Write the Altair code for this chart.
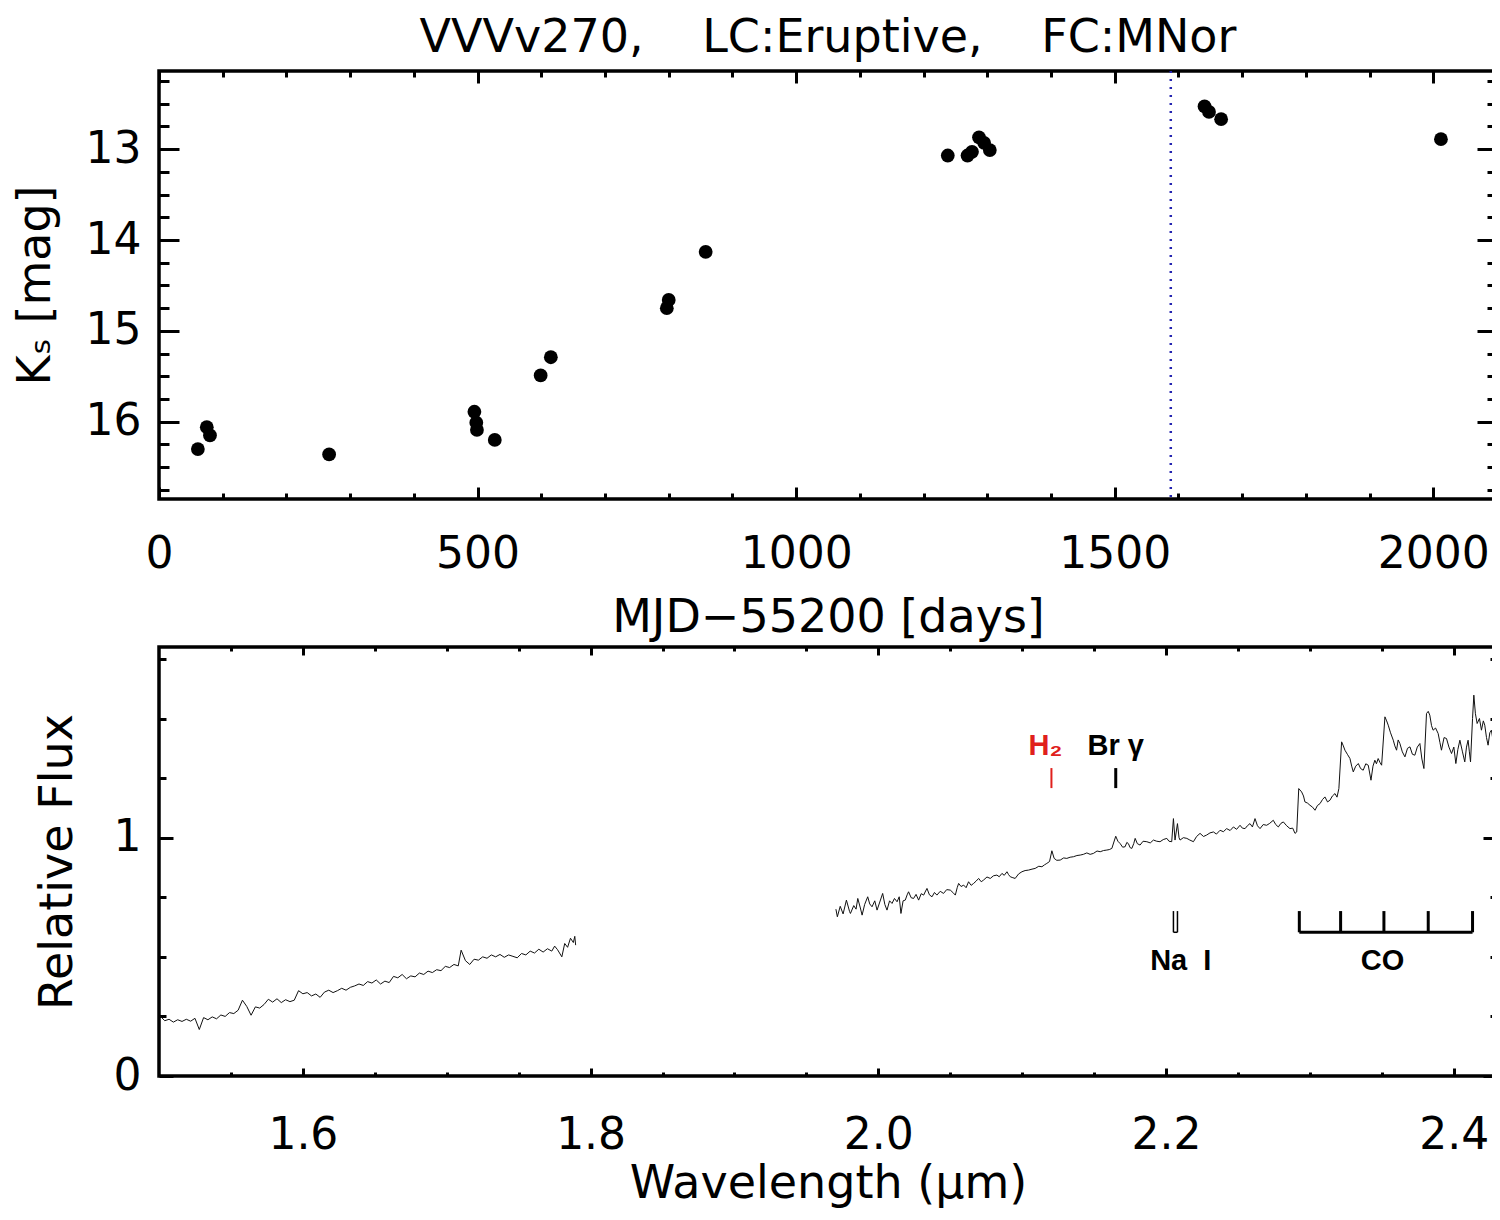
import altair as alt
import pandas as pd

FONT = "DejaVu Sans"
NARROW = "Liberation Sans Narrow, Liberation Sans, Arial, sans-serif"

# ---------------- light curve (top panel) ----------------
lc_days = [61, 75, 80, 267, 495, 498, 499, 527, 599, 615, 797, 800, 858,
           1238, 1269, 1276, 1287, 1295, 1304, 1641, 1648, 1667, 2012]
lc_ks = [16.30, 16.06, 16.15, 16.36, 15.89, 16.01, 16.09, 16.20, 15.49, 15.29,
         14.75, 14.66, 14.13, 13.07, 13.07, 13.03, 12.87, 12.93, 13.01,
         12.53, 12.59, 12.67, 12.89]
spec_epoch = [1588]

top_x_domain = [0, 2100]
top_y_domain = [12.14, 16.85]
top_x_major = [0, 500, 1000, 1500, 2000]
top_x_minor = [0, 100, 200, 300, 400, 500, 600, 700, 800, 900, 1000, 1100,
               1200, 1300, 1400, 1500, 1600, 1700, 1800, 1900, 2000, 2100]
top_y_major = [13, 14, 15, 16]
top_y_minor = [12.25, 12.5, 12.75, 13, 13.25, 13.5, 13.75, 14, 14.25, 14.5,
               14.75, 15, 15.25, 15.5, 15.75, 16, 16.25, 16.5, 16.75]

# ---------------- spectrum (bottom panel) ----------------
h_wl = [1.501, 1.504, 1.507, 1.510, 1.513, 1.516, 1.519, 1.522, 1.525, 1.528,
        1.531, 1.534, 1.537, 1.540, 1.543, 1.546, 1.549, 1.552, 1.555, 1.558,
        1.561, 1.564, 1.567, 1.570, 1.573, 1.576, 1.579, 1.582, 1.585, 1.588,
        1.591, 1.594, 1.597, 1.600, 1.603, 1.606, 1.609, 1.612, 1.615, 1.618,
        1.621, 1.624, 1.627, 1.630, 1.633, 1.636, 1.639, 1.642, 1.645, 1.648,
        1.651, 1.654, 1.657, 1.660, 1.663, 1.666, 1.669, 1.672, 1.675, 1.678,
        1.681, 1.684, 1.687, 1.690, 1.693, 1.696, 1.699, 1.702, 1.705, 1.708,
        1.710, 1.713, 1.716, 1.719, 1.722, 1.725, 1.728, 1.731, 1.734, 1.737,
        1.740, 1.743, 1.746, 1.749, 1.752, 1.755, 1.758, 1.761, 1.764, 1.767,
        1.770, 1.773, 1.775, 1.777, 1.780, 1.782, 1.784, 1.786, 1.788, 1.789,
        1.7896]
h_flux = [0.250, 0.232, 0.238, 0.226, 0.236, 0.229, 0.238, 0.230, 0.242, 0.195,
          0.245, 0.236, 0.248, 0.240, 0.256, 0.250, 0.266, 0.262, 0.276, 0.318,
          0.292, 0.255, 0.290, 0.285, 0.300, 0.322, 0.310, 0.324, 0.308, 0.320,
          0.312, 0.318, 0.358, 0.345, 0.350, 0.336, 0.344, 0.330, 0.352, 0.360,
          0.350, 0.358, 0.368, 0.360, 0.372, 0.378, 0.386, 0.380, 0.396, 0.390,
          0.403, 0.386, 0.398, 0.392, 0.418, 0.412, 0.426, 0.408, 0.420, 0.416,
          0.432, 0.426, 0.440, 0.434, 0.446, 0.442, 0.460, 0.455, 0.468, 0.462,
          0.528, 0.484, 0.468, 0.490, 0.486, 0.500, 0.494, 0.508, 0.500, 0.510,
          0.498, 0.508, 0.502, 0.496, 0.514, 0.508, 0.524, 0.516, 0.532, 0.520,
          0.534, 0.524, 0.545, 0.530, 0.500, 0.556, 0.540, 0.578, 0.560, 0.586,
          0.549]

k_wl = [1.9705, 1.9715, 1.9735, 1.9755, 1.9778, 1.9800, 1.9806, 1.9829, 1.9845, 1.9857,
        1.9875, 1.9887, 1.9905, 1.9926, 1.9940, 1.9956, 1.9975, 1.9991, 2.0010, 2.0030,
        2.0045, 2.0060, 2.0078, 2.0095, 2.0112, 2.0130, 2.0145, 2.0157, 2.0172, 2.0187,
        2.0200, 2.0210, 2.0228, 2.0245, 2.0262, 2.0280, 2.0298, 2.0315, 2.0325, 2.0338,
        2.0355, 2.0373, 2.0390, 2.0407, 2.0430, 2.0453, 2.0475, 2.0500, 2.0518, 2.0535,
        2.0548, 2.0558, 2.0575, 2.0593, 2.0610, 2.0627, 2.0645, 2.0662, 2.0680, 2.0697,
        2.0715, 2.0731, 2.0755, 2.0778, 2.0800, 2.0824, 2.0840, 2.0859, 2.0875, 2.0894,
        2.0905, 2.0917, 2.0935, 2.0951, 2.0975, 2.0998, 2.1020, 2.1044, 2.1068, 2.1090,
        2.1115, 2.1137, 2.1155, 2.1171, 2.1190, 2.1206, 2.1222, 2.1240, 2.1264, 2.1288,
        2.1310, 2.1333, 2.1356, 2.1380, 2.1403, 2.1425, 2.1449, 2.1472, 2.1495, 2.1520,
        2.1542, 2.1565, 2.1588, 2.1605, 2.1623, 2.1650, 2.1665, 2.1681, 2.1698, 2.1715,
        2.1727, 2.1738, 2.1750, 2.1762, 2.1775, 2.1785, 2.1800, 2.1819, 2.1840, 2.1866,
        2.1890, 2.1912, 2.1935, 2.1958, 2.1980, 2.2005, 2.2020, 2.2039, 2.2051, 2.2062,
        2.2079, 2.2090, 2.2097, 2.2120, 2.2144, 2.2165, 2.2190, 2.2212, 2.2236, 2.2260,
        2.2282, 2.2305, 2.2329, 2.2350, 2.2375, 2.2398, 2.2421, 2.2445, 2.2468, 2.2490,
        2.2514, 2.2530, 2.2549, 2.2565, 2.2583, 2.2600, 2.2618, 2.2635, 2.2653, 2.2675,
        2.2699, 2.2720, 2.2745, 2.2762, 2.2780, 2.2798, 2.2815, 2.2838, 2.2861, 2.2880,
        2.2896, 2.2908, 2.2922, 2.2942, 2.2955, 2.2965, 2.2983, 2.3000, 2.3018, 2.3035,
        2.3052, 2.3070, 2.3087, 2.3104, 2.3122, 2.3139, 2.3156, 2.3174, 2.3188, 2.3201,
        2.3220, 2.3232, 2.3243, 2.3260, 2.3278, 2.3290, 2.3301, 2.3318, 2.3336, 2.3352,
        2.3370, 2.3388, 2.3405, 2.3424, 2.3438, 2.3451, 2.3462, 2.3474, 2.3487, 2.3498,
        2.3521, 2.3533, 2.3544, 2.3560, 2.3579, 2.3590, 2.3602, 2.3613, 2.3625, 2.3642,
        2.3660, 2.3678, 2.3695, 2.3712, 2.3729, 2.3746, 2.3764, 2.3778, 2.3792, 2.3810,
        2.3822, 2.3833, 2.3845, 2.3856, 2.3873, 2.3891, 2.3903, 2.3914, 2.3932, 2.3949,
        2.3966, 2.3984, 2.4000, 2.4014, 2.4028, 2.4042, 2.4060, 2.4076, 2.4088, 2.4099,
        2.4108, 2.4116, 2.4130, 2.4139, 2.4150, 2.4162, 2.4178, 2.4192, 2.4205, 2.4215,
        2.4227, 2.4238, 2.4250, 2.4261, 2.4272, 2.4284, 2.4295]
k_flux = [0.700, 0.668, 0.712, 0.680, 0.738, 0.690, 0.682, 0.715, 0.700, 0.745,
          0.705, 0.675, 0.720, 0.752, 0.722, 0.710, 0.735, 0.696, 0.730, 0.766,
          0.720, 0.696, 0.735, 0.724, 0.745, 0.731, 0.752, 0.682, 0.735, 0.738,
          0.760, 0.773, 0.748, 0.745, 0.762, 0.738, 0.765, 0.759, 0.772, 0.787,
          0.760, 0.752, 0.770, 0.759, 0.775, 0.766, 0.782, 0.780, 0.770, 0.759,
          0.790, 0.808, 0.795, 0.801, 0.790, 0.815, 0.800, 0.808, 0.818, 0.829,
          0.815, 0.822, 0.835, 0.829, 0.840, 0.843, 0.836, 0.850, 0.842, 0.857,
          0.845, 0.836, 0.832, 0.829, 0.848, 0.857, 0.862, 0.864, 0.868, 0.871,
          0.880, 0.878, 0.886, 0.892, 0.900, 0.945, 0.913, 0.905, 0.906, 0.915,
          0.913, 0.918, 0.920, 0.925, 0.927, 0.930, 0.936, 0.930, 0.934, 0.944,
          0.941, 0.946, 0.948, 0.950, 0.955, 1.006, 0.985, 0.975, 0.960, 0.962,
          0.980, 0.975, 0.958, 0.955, 0.975, 0.997, 0.975, 0.969, 0.985, 0.983,
          0.978, 0.990, 0.985, 0.983, 0.992, 0.997, 0.985, 0.983, 1.080, 0.990,
          1.059, 1.000, 0.990, 1.000, 0.997, 0.990, 0.983, 1.005, 1.018, 1.005,
          1.011, 1.020, 1.024, 1.015, 1.031, 1.025, 1.038, 1.030, 1.045, 1.035,
          1.052, 1.040, 1.038, 1.050, 1.059, 1.045, 1.080, 1.050, 1.038, 1.055,
          1.052, 1.060, 1.073, 1.055, 1.045, 1.060, 1.066, 1.050, 1.038, 1.040,
          1.018, 1.024, 1.206, 1.192, 1.175, 1.150, 1.145, 1.136, 1.128, 1.115,
          1.135, 1.143, 1.160, 1.171, 1.150, 1.157, 1.175, 1.185, 1.170, 1.206,
          1.402, 1.385, 1.367, 1.350, 1.332, 1.300, 1.276, 1.300, 1.311, 1.290,
          1.283, 1.310, 1.304, 1.241, 1.300, 1.325, 1.310, 1.332, 1.315, 1.304,
          1.507, 1.490, 1.472, 1.440, 1.409, 1.385, 1.367, 1.410, 1.395, 1.360,
          1.339, 1.375, 1.381, 1.350, 1.346, 1.380, 1.395, 1.330, 1.290, 1.521,
          1.530, 1.514, 1.470, 1.451, 1.460, 1.437, 1.400, 1.367, 1.420, 1.416,
          1.380, 1.353, 1.380, 1.311, 1.370, 1.409, 1.360, 1.318, 1.380, 1.409,
          1.360, 1.318, 1.500, 1.598, 1.520, 1.479, 1.500, 1.451, 1.490, 1.472,
          1.420, 1.388, 1.440, 1.451, 1.410, 1.381, 1.430]

bot_x_domain = [1.5, 2.43]
bot_y_domain = [0, 1.8]
bot_x_major = [1.6, 1.8, 2.0, 2.2, 2.4]
bot_x_minor = [1.55, 1.6, 1.65, 1.7, 1.75, 1.8, 1.85, 1.9, 1.95, 2.0, 2.05, 2.1,
               2.15, 2.2, 2.25, 2.3, 2.35, 2.4]
bot_y_major = [0, 1]
bot_y_minor = [0.25, 0.5, 0.75, 1.0, 1.25, 1.5, 1.75]

# line identifications
h2_line = [2.1203]
brg_line = [2.1650]
em_mark_lo, em_mark_hi = 1.208, 1.292
em_label_y = 1.346
na_lines = [2.2051, 2.2079]
co_heads = [2.2926, 2.3213, 2.3514, 2.3822, 2.4130]
abs_mark_lo, abs_mark_hi = 0.603, 0.692
abs_label_y = 0.444
na_label_x = 2.2102
co_label_x = 2.3504

# ---------------- helpers ----------------
def tick_axis(orient, values, size):
    return alt.Axis(orient=orient, values=values, labels=False, domain=False,
                    ticks=True, tickSize=size, offset=-size, tickWidth=3,
                    tickColor="black", title=None, grid=False,
                    minExtent=0, maxExtent=0)


def frame_layers(df, xf, yf, xs, ys, xmaj, xmin, ymaj, ymin, xl, xsl, yl, ysl):
    out = []
    for xo, yo in (("bottom", "left"), ("top", "right")):
        for xv, xlen, yv, ylen in ((xmaj, xl, ymaj, yl), (xmin, xsl, ymin, ysl)):
            out.append(alt.Chart(df).mark_point(opacity=0).encode(
                x=alt.X(xf, scale=xs, axis=tick_axis(xo, xv, xlen)),
                y=alt.Y(yf, scale=ys, axis=tick_axis(yo, yv, ylen))))
    return out

# ---------------- top panel ----------------
lc = pd.DataFrame({"t": lc_days, "ks": lc_ks})
xs_top = alt.Scale(domain=top_x_domain, nice=False, zero=False)
ys_top = alt.Scale(domain=top_y_domain, nice=False, zero=False, reverse=True)

pts = alt.Chart(lc).mark_circle(size=190, color="black", opacity=1).encode(
    x=alt.X("t:Q", scale=xs_top,
            axis=alt.Axis(orient="bottom", values=top_x_major, format="d",
                          ticks=False, domain=False, grid=False, labelPadding=33,
                          labelFlush=False,
                          title="MJD\u221255200 [days]", titlePadding=19)),
    y=alt.Y("ks:Q", scale=ys_top,
            axis=alt.Axis(orient="left", values=top_y_major, format="d",
                          ticks=False, domain=False, grid=False, labelPadding=18,
                          labelFlush=False,
                          title="K\u209b [mag]", titlePadding=26)),
)

epoch = alt.Chart(pd.DataFrame({"t": spec_epoch})).mark_rule(
    color="#2424b0", strokeWidth=2.5, strokeDash=[2, 6]).encode(
    x=alt.X("t:Q", scale=xs_top, axis=None))

title_text = ("VVVv270,\u00a0\u00a0\u00a0\u00a0LC:Eruptive,"
              "\u00a0\u00a0\u00a0\u00a0FC:MNor")

top = alt.layer(
    epoch, pts,
    *frame_layers(lc, "t:Q", "ks:Q", xs_top, ys_top, top_x_major, top_x_minor,
                  top_y_major, top_y_minor, 12, 6, 20, 10)
).resolve_axis(x="independent", y="independent").properties(
    width=1338, height=428,
    title=alt.TitleParams(title_text,
                          font=FONT, fontSize=46, fontWeight="normal", color="black",
                          anchor="middle", frame="group", baseline="alphabetic",
                          offset=-28))

# ---------------- bottom panel ----------------
spec = pd.concat([
    pd.DataFrame({"wl": h_wl, "flux": h_flux, "seg": "H"}),
    pd.DataFrame({"wl": k_wl, "flux": k_flux, "seg": "K"}),
], ignore_index=True)
xs_bot = alt.Scale(domain=bot_x_domain, nice=False, zero=False)
ys_bot = alt.Scale(domain=bot_y_domain, nice=False, zero=False)

line = alt.Chart(spec).mark_line(color="#111111", strokeWidth=1, clip=True).encode(
    x=alt.X("wl:Q", scale=xs_bot,
            axis=alt.Axis(orient="bottom", values=bot_x_major, format=".1f",
                          ticks=False, domain=False, grid=False, labelPadding=37,
                          labelFlush=False,
                          title="Wavelength (\u03bcm)", titlePadding=4)),
    y=alt.Y("flux:Q", scale=ys_bot,
            axis=alt.Axis(orient="left", values=bot_y_major, format="d",
                          ticks=False, domain=False, grid=False, labelPadding=18,
                          labelFlush=False,
                          title="Relative Flux", titlePadding=32)),
    detail="seg:N",
)

em = pd.DataFrame({"wl": h2_line + brg_line, "lo": [em_mark_lo] * 2,
                   "hi": [em_mark_hi] * 2, "name": ["H2", "Brg"]})
h2_tick = alt.Chart(em[em.name == "H2"]).mark_rule(color="#e0201c", strokeWidth=2).encode(
    x=alt.X("wl:Q", scale=xs_bot, axis=None),
    y=alt.Y("lo:Q", scale=ys_bot, axis=None), y2="hi:Q")
brg_tick = alt.Chart(em[em.name == "Brg"]).mark_rule(color="black", strokeWidth=3).encode(
    x=alt.X("wl:Q", scale=xs_bot, axis=None),
    y=alt.Y("lo:Q", scale=ys_bot, axis=None), y2="hi:Q")

lab_df = pd.DataFrame({
    "wl": [h2_line[0], brg_line[0], na_label_x, co_label_x],
    "y": [em_label_y, em_label_y, abs_label_y, abs_label_y],
    "txt": ["H\u2082", "Br \u03b3", "Na\u00a0\u00a0I", "CO"],
})
h2_text = alt.Chart(lab_df.iloc[[0]]).mark_text(
    font=NARROW, fontSize=29, fontWeight="bold", color="#e0201c",
    baseline="alphabetic", align="center", dx=-6).encode(
    x=alt.X("wl:Q", scale=xs_bot, axis=None),
    y=alt.Y("y:Q", scale=ys_bot, axis=None), text="txt:N")
other_text = alt.Chart(lab_df.iloc[1:]).mark_text(
    font=NARROW, fontSize=29, fontWeight="bold", color="black",
    baseline="alphabetic", align="center").encode(
    x=alt.X("wl:Q", scale=xs_bot, axis=None),
    y=alt.Y("y:Q", scale=ys_bot, axis=None), text="txt:N")

na_df = pd.DataFrame({"wl": na_lines, "lo": [abs_mark_lo] * 2, "hi": [abs_mark_hi] * 2})
na_ticks = alt.Chart(na_df).mark_rule(color="black", strokeWidth=1.5).encode(
    x=alt.X("wl:Q", scale=xs_bot, axis=None),
    y=alt.Y("lo:Q", scale=ys_bot, axis=None), y2="hi:Q")
na_base = alt.Chart(pd.DataFrame({"a": [na_lines[0]], "b": [na_lines[1]],
                                  "y": [abs_mark_lo]})).mark_rule(
    color="black", strokeWidth=1.5).encode(
    x=alt.X("a:Q", scale=xs_bot, axis=None), x2="b:Q",
    y=alt.Y("y:Q", scale=ys_bot, axis=None))

co_df = pd.DataFrame({"wl": co_heads, "lo": [abs_mark_lo] * 5, "hi": [abs_mark_hi] * 5})
co_ticks = alt.Chart(co_df).mark_rule(color="black", strokeWidth=3).encode(
    x=alt.X("wl:Q", scale=xs_bot, axis=None),
    y=alt.Y("lo:Q", scale=ys_bot, axis=None), y2="hi:Q")
co_base = alt.Chart(pd.DataFrame({"a": [co_heads[0]], "b": [co_heads[-1]],
                                  "y": [abs_mark_lo]})).mark_rule(
    color="black", strokeWidth=3).encode(
    x=alt.X("a:Q", scale=xs_bot, axis=None), x2="b:Q",
    y=alt.Y("y:Q", scale=ys_bot, axis=None))

bottom = alt.layer(
    line, h2_tick, brg_tick, na_ticks, na_base, co_ticks, co_base, h2_text, other_text,
    *frame_layers(spec, "wl:Q", "flux:Q", xs_bot, ys_bot, bot_x_major, bot_x_minor,
                  bot_y_major, bot_y_minor, 8, 4, 14, 7)
).resolve_axis(x="independent", y="independent").properties(width=1338, height=429)

chart = alt.vconcat(top, bottom, spacing=1).properties(
    padding={"left": 2, "top": 4, "right": -9, "bottom": 0}
).configure_view(stroke="black", strokeWidth=3.5).configure_axis(
    labelFont=FONT, labelFontSize=44, labelColor="black",
    titleFont=FONT, titleFontSize=46, titleFontWeight="normal", titleColor="black",
    grid=False)

chart.save("out.html", embed_options={"renderer": "svg", "actions": False})
